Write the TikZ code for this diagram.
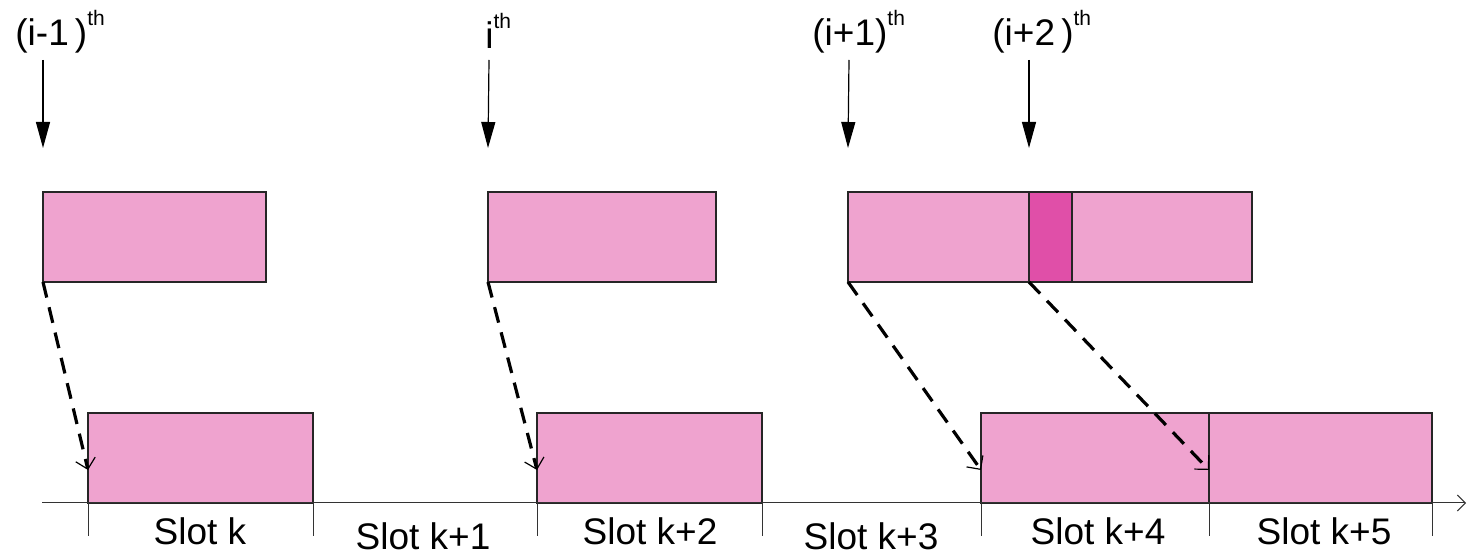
\documentclass[tikz,border=0pt]{standalone}
\usepackage{fontspec}
\setmainfont{Liberation Sans}
\usetikzlibrary{arrows.meta}
\definecolor{slotpink}{HTML}{EFA3CF}
\definecolor{slotmagenta}{HTML}{E04FA8}
\newcommand\ordsup{\raisebox{10pt}{\fontsize{10.5}{12}\selectfont th}}
\begin{document}
\begin{tikzpicture}[x=0.5pt,y=-0.5pt,
  box/.style={draw=black!85,fill=slotpink,line width=0.8pt,inner sep=0pt,outer sep=0pt,
              minimum height=45pt,anchor=north west},
  hot/.style={box,fill=slotmagenta},
  lbl/.style={font=\fontsize{18.5}{22}\selectfont,inner sep=0pt,anchor=base west},
  slotlbl/.style={font=\fontsize{18.5}{22}\selectfont,inner sep=0pt,anchor=base},
  pointer/.style={line width=0.6pt,-{Triangle[length=13pt,width=7pt]}},
  hop/.style={line width=1.6pt,dash pattern=on 8pt off 5pt,
              -{Straight Barb[length=5pt,width=10pt,line width=0.6pt]}},
  tickline/.style={line width=0.5pt,draw=black!80},
  axisline/.style={line width=0.5pt,draw=black!80,-{Straight Barb[length=4pt,width=8pt]}}
]
\useasboundingbox (0,0) rectangle (1468,555);

% transmissions (upper row)
\node[box,minimum width=111.5pt] (t1) at (43,192) {};
\node[box,minimum width=114pt] (t2) at (488,192) {};
\node[box,minimum width=202pt] (t3) at (848,192) {};
\node[hot,minimum width=21.5pt] (t3h) at (1029,192) {};

% occupied slots (lower row)
\node[box,minimum width=112.5pt] (s0) at (88,413) {};
\node[box,minimum width=112.5pt] (s2) at (537,413) {};
\node[box,minimum width=114pt] (s4) at (981,413) {};
\node[box,minimum width=111.5pt] (s5) at (1209,413) {};

% time axis with slot boundaries
\coordinate (ax0) at (42,503);
\coordinate (ax1) at (1466,503);
\draw[axisline] (ax0) -- (ax1);
\foreach \x in {88,313,537,762,981,1209,1432}
  \draw[tickline] (\x,503) -- (\x,536);

% arrival labels and pointers
\node[lbl] (l1) at (15,46) {(i-1\,)\ordsup};
\node[lbl] (l2) at (485,49) {i\ordsup};
\node[lbl] (l3) at (812,46) {(i+1)\ordsup};
\node[lbl] (l4) at (992,46) {(i+2\,)\ordsup};
\coordinate (p1) at (43,60);
\coordinate (p2) at (489,60);
\coordinate (p3) at (849,60);
\coordinate (p4) at (1029,60);
\draw[pointer] (p1) -- ([yshift=22pt]t1.north west);
\draw[pointer] (p2) -- ([yshift=22pt]t2.north west);
\draw[pointer] (p3) -- ([yshift=22pt]t3.north west);
\draw[pointer] (p4) -- ([yshift=22pt]t3h.north west);

% mapping to slots
\draw[hop] (t1.south west) -- ([yshift=-6pt]s0.west);
\draw[hop] (t2.south west) -- ([yshift=-6pt]s2.west);
\draw[hop] (t3.south west) -- ([yshift=-6pt]s4.west);
\draw[hop] (t3h.south west) -- ([yshift=-6pt]s5.west);

% slot names
\node[slotlbl] (n0) at (200,545) {Slot k};
\node[slotlbl] (n1) at (423,550) {Slot k+1};
\node[slotlbl] (n2) at (650,545) {Slot k+2};
\node[slotlbl] (n3) at (871,550) {Slot k+3};
\node[slotlbl] (n4) at (1098,545) {Slot k+4};
\node[slotlbl] (n5) at (1324,545) {Slot k+5};
\end{tikzpicture}
\end{document}
